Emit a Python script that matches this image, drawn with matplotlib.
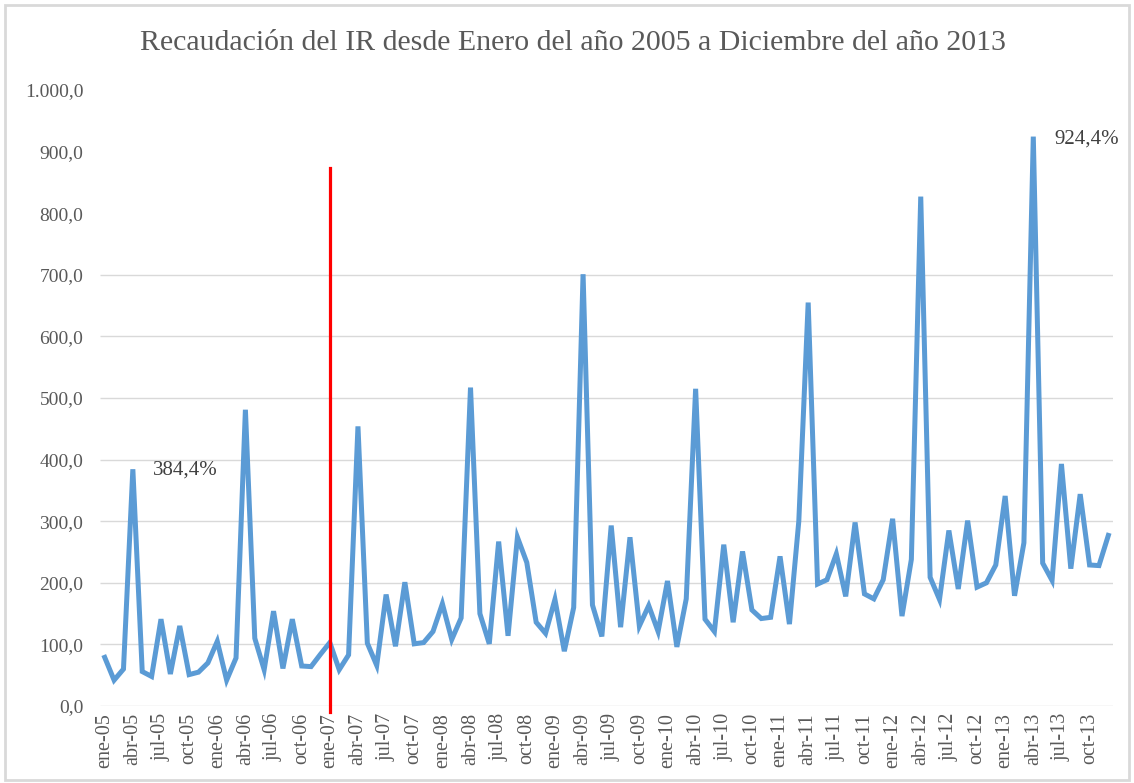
import numpy as np
import matplotlib
matplotlib.use("Agg")
import matplotlib.pyplot as plt
from matplotlib.patches import Rectangle

plt.rcParams['font.family'] = ['Liberation Serif', 'DejaVu Serif']

# monthly values, ene-05 .. dic-13
v2005 = [79, 42, 60, 384.4, 56, 48, 141, 52, 130, 51, 55, 70]
v2006 = [105, 42, 78, 481, 110, 59, 154, 61, 141, 65, 64, 84]
v2007 = [103, 59, 83, 454, 102, 66, 181, 97, 201, 101, 103, 121]
v2008 = [166, 108, 143, 517, 150, 101, 267, 114, 274, 233, 136, 118]
v2009 = [173, 89, 160, 701, 164, 113, 293, 128, 274, 130, 163, 121]
v2010 = [203, 96, 174, 515, 141, 121, 262, 136, 251, 156, 142, 144]
v2011 = [243, 133, 300, 655, 198, 205, 247, 178, 298, 182, 174, 205]
v2012 = [304, 146, 238, 827, 209, 173, 285, 190, 301, 193, 200, 229]
v2013 = [341, 179, 265, 924.4, 232, 204, 393, 223, 344, 229, 228, 277]

years = ['05', '06', '07', '08', '09', '10', '11', '12', '13']
months = ['ene', 'feb', 'mar', 'abr', 'may', 'jun', 'jul', 'ago', 'sep', 'oct', 'nov', 'dic']
shown_months = ['ene', 'abr', 'jul', 'oct']

values = v2005 + v2006 + v2007 + v2008 + v2009 + v2010 + v2011 + v2012 + v2013
labels = [m + '-' + y for y in years for m in months]

cut_label = 'ene-07'
cut_range = (-10, 873)
notes = [('384,4%', 'abr-05', 383, 2.15), ('924,4%', 'abr-13', 921, 2.3)]

x = np.arange(len(values))
gray = '#595959'
blue = '#5B9BD5'

fig = plt.figure(figsize=(11.34, 7.83), dpi=100)
ax = fig.add_axes([0.0882, 0.0983, 0.8933, 0.7867])

yticks = np.arange(0, 1001, 100)
ax.hlines(yticks[yticks <= 700], -0.5, len(values) - 0.5, color='#d9d9d9', lw=1, zorder=0)

ax.plot(x, values, color=blue, lw=3.6, solid_joinstyle='miter', zorder=3)

cx = labels.index(cut_label)
ax.plot([cx, cx], cut_range, color='red', lw=2.3, zorder=4, clip_on=False)

for txt, lab, yv, dx in notes:
    ax.text(labels.index(lab) + dx, yv, txt, fontsize=15, color='#404040',
            ha='left', va='center')

ax.set_xlim(-0.5, len(values) - 0.5)
ax.set_ylim(0, 1000)

tick_pos = [i for i, l in enumerate(labels) if l[:3] in shown_months]
ax.set_xticks(tick_pos)
ax.set_xticklabels([labels[i] for i in tick_pos], rotation=90, fontsize=14.5, color=gray)
ax.set_yticks(yticks)
ax.set_yticklabels(['{:,.1f}'.format(t).replace(',', 'X').replace('.', ',').replace('X', '.')
                    for t in yticks], fontsize=14, color=gray)
ax.tick_params(axis='both', length=0)
ax.tick_params(axis='y', pad=12)
ax.tick_params(axis='x', pad=5)
for s in ax.spines.values():
    s.set_visible(False)

fig.text(0.505, 0.945, 'Recaudación del IR desde Enero del año 2005 a Diciembre del año 2013',
         ha='center', va='center', fontsize=21.5, color=gray)

fig.patches.append(Rectangle((0.004, 0.004), 0.992, 0.99, transform=fig.transFigure,
                             fill=False, edgecolor='#d9d9d9', lw=2))

fig.savefig('out.png', dpi=100)
